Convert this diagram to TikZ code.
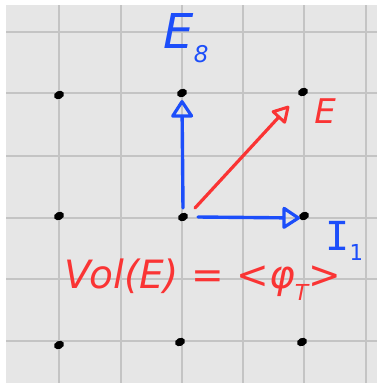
\documentclass[tikz,border=0pt]{standalone}
\usepackage{fontspec}
\setmainfont{DejaVu Sans}
\newfontfamily\monof{DejaVu Sans Mono}
\usetikzlibrary{arrows.meta,shapes.geometric}
\definecolor{bg}{RGB}{230,230,230}
\definecolor{gridc}{RGB}{196,196,196}
\definecolor{penblue}{RGB}{28,78,250}
\definecolor{penred}{RGB}{250,52,52}
\tikzset{
  dot/.style={ellipse,fill=black,inner sep=0pt,minimum width=10.5pt,minimum height=8pt,rotate=25},
  bluearrow/.style={draw=penblue,line width=3.4pt,line cap=round,-{Triangle[open,length=19pt,width=24pt,line width=3.2pt,round]}},
  redarrow/.style={draw=penred,line width=3.2pt,line cap=round,-{Triangle[open,length=18pt,width=20pt,line width=3pt,round]}},
  bluetxt/.style={text=penblue,inner sep=0pt,font=\itshape},
  redtxt/.style={text=penred,inner sep=0pt,font=\itshape},
}
\begin{document}
\begin{tikzpicture}[x=1pt,y=-1pt]
\useasboundingbox (0,0) rectangle (377,383);
\fill[bg] (6,5) rectangle (377,383);
\foreach \gx in {59,121,182,243,304,366} \draw[gridc,line width=1.3pt] (\gx,5) -- (\gx,383);
\foreach \gy in {32,93,156,218,279,341} \draw[gridc,line width=1.3pt] (6,\gy) -- (377,\gy);
% dots
\node[dot] (a1) at (59,95) {};
\node[dot] (a2) at (182,93) {};
\node[dot] (a3) at (303,92) {};
\node[dot] (b1) at (59,216) {};
\node[dot] (b2) at (183,217) {};
\node[dot] (b3) at (304,216) {};
\node[dot] (c1) at (59,345) {};
\node[dot] (c2) at (180,342) {};
\node[dot] (c3) at (302,342) {};
% arrows
\coordinate (vs) at (183,208);
\coordinate (ve) at (182,100);
\coordinate (hs) at (198,217);
\coordinate (he) at (300,218);
\coordinate (rs) at (195,208);
\coordinate (re) at (289,106);
\draw[bluearrow] (vs) -- (ve);
\draw[bluearrow] (hs) -- (he);
\draw[redarrow] (rs) -- (re);
% labels
\node[bluetxt,font=\itshape\fontsize{48}{48}\selectfont] (e8) at (186,38) {E\raisebox{-0.28em}{\fontsize{23}{23}\selectfont 8}};
\node[redtxt,font=\itshape\fontsize{34}{34}\selectfont] (e) at (325,111) {E};
\node[bluetxt,font=\monof\fontsize{40}{40}\selectfont] (i1) at (344,241) {I\raisebox{-0.25em}{\fontsize{22}{22}\selectfont 1}};
\node[redtxt,font=\itshape\fontsize{39}{39}\selectfont] (vol) at (203,280) {Vol(E) = <φ\raisebox{-0.3em}{\fontsize{22}{22}\selectfont T}>};
\end{tikzpicture}
\end{document}
